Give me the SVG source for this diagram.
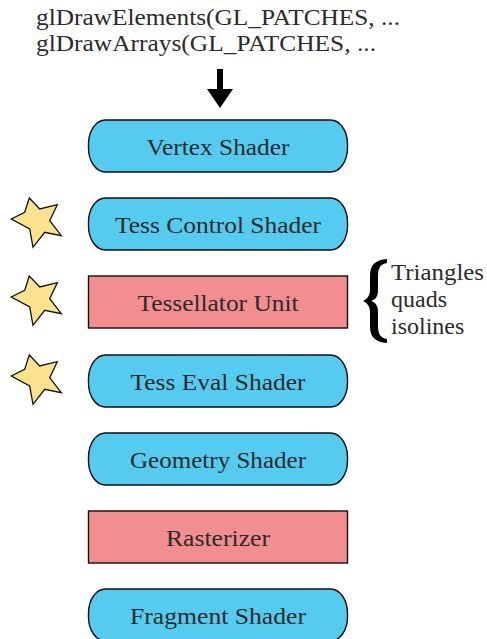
<svg xmlns="http://www.w3.org/2000/svg" xmlns:xlink="http://www.w3.org/1999/xlink" width="487" height="639" viewBox="0 0 487 639">
  <style>
    .label { font-size: 24px; fill: #2b2b2b; }
    .call { font-size: 23px; fill: #2b2b2b; }
    .shader { fill: #56CBF0; stroke: #111; stroke-width: 1.4; }
    .fixed { fill: #F28E90; stroke: #111; stroke-width: 1.4; }
    .star { fill: #FBE38E; stroke: #111; stroke-width: 1.3; stroke-linejoin: miter; }
  </style>
  <defs>
    <polygon id="star-shape" points="29.3,198 39.7,209 57.3,204.7 49.7,220.7 61.3,235.7 44.7,232.3 33,247.3 29.7,229 11.3,219 24.7,212.3"/>
  </defs>

  <rect width="487" height="639" fill="#ffffff"/>

  <g font-family="Liberation Serif, DejaVu Serif, serif">
  <!-- draw calls -->
  <g id="draw-calls">
    <text class="call" x="36" y="25" textLength="364" lengthAdjust="spacingAndGlyphs">glDrawElements(GL_PATCHES, ...</text>
    <text class="call" x="36" y="51" textLength="340" lengthAdjust="spacingAndGlyphs">glDrawArrays(GL_PATCHES, ...</text>
  </g>

  <!-- connectors -->
  <g id="connectors">
    <path d="M217,69 H223 V89 H233 L220,108 L207,89 H217 Z" fill="#000"/>
  </g>

  <g id="vertex-shader">
    <rect class="shader" x="88.5" y="120" width="259" height="52" rx="17" ry="24"/>
    <text class="label" x="218" y="155" text-anchor="middle" textLength="143" lengthAdjust="spacingAndGlyphs">Vertex Shader</text>
  </g>

  <g id="tess-control-shader">
    <rect class="shader" x="88.5" y="198" width="259" height="52" rx="17" ry="24"/>
    <text class="label" x="218" y="233" text-anchor="middle" textLength="206" lengthAdjust="spacingAndGlyphs">Tess Control Shader</text>
  </g>

  <g id="tessellator-unit">
    <rect class="fixed" x="88.5" y="276" width="259" height="52"/>
    <text class="label" x="218" y="311" text-anchor="middle" textLength="161" lengthAdjust="spacingAndGlyphs">Tessellator Unit</text>
  </g>

  <g id="tess-eval-shader">
    <rect class="shader" x="88.5" y="355" width="259" height="52" rx="17" ry="24"/>
    <text class="label" x="218" y="390" text-anchor="middle" textLength="175" lengthAdjust="spacingAndGlyphs">Tess Eval Shader</text>
  </g>

  <g id="geometry-shader">
    <rect class="shader" x="88.5" y="433" width="259" height="52" rx="17" ry="24"/>
    <text class="label" x="218" y="468" text-anchor="middle" textLength="176" lengthAdjust="spacingAndGlyphs">Geometry Shader</text>
  </g>

  <g id="rasterizer">
    <rect class="fixed" x="88.5" y="511" width="259" height="52"/>
    <text class="label" x="218" y="546" text-anchor="middle" textLength="104" lengthAdjust="spacingAndGlyphs">Rasterizer</text>
  </g>

  <g id="fragment-shader">
    <rect class="shader" x="88.5" y="589" width="259" height="52" rx="17" ry="24"/>
    <text class="label" x="218" y="624" text-anchor="middle" textLength="176" lengthAdjust="spacingAndGlyphs">Fragment Shader</text>
  </g>

  <!-- programmable tessellation stages -->
  <g id="star-tess-control"><use xlink:href="#star-shape" class="star"/></g>
  <g id="star-tessellator"><use xlink:href="#star-shape" class="star" transform="translate(0,78)"/></g>
  <g id="star-tess-eval"><use xlink:href="#star-shape" class="star" transform="translate(0,157)"/></g>

  <!-- primitive modes -->
  <g id="primitive-modes">
    <path d="M387,259 C375,260 370,265 370,276 L370,290 C370,296 367,299 363,301 C367,303 370,306 370,312 L370,326 C370,337 375,342 387,343 L387,339 C381,338 378,335 378,326 L378,312 C378,305 375,302 371,301 C375,300 378,297 378,290 L378,276 C378,267 381,264 387,263 Z" fill="#000"/>
    <text class="label" x="391" y="280" textLength="93" lengthAdjust="spacingAndGlyphs">Triangles</text>
    <text class="label" x="391" y="307">quads</text>
    <text class="label" x="391" y="334">isolines</text>
  </g>
  </g>
</svg>
